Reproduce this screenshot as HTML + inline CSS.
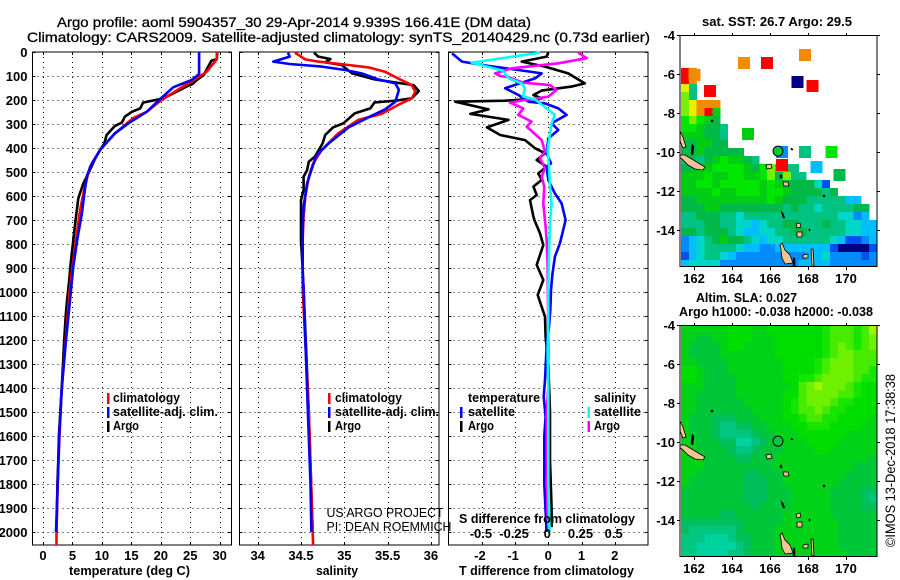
<!DOCTYPE html>
<html><head><meta charset="utf-8"><title>Argo profile</title>
<style>
html,body{margin:0;padding:0;background:#fff;width:900px;height:580px;overflow:hidden}
svg{display:block}
text{font-family:"Liberation Sans",sans-serif;fill:#000}
</style></head>
<body>
<svg id="chart" xmlns="http://www.w3.org/2000/svg" width="900" height="580" viewBox="0 0 900 580"></svg>
<script>
const depthTicks=[0,100,200,300,400,500,600,700,800,900,1000,1100,1200,1300,1400,1500,1600,1700,1800,1900,2000];
const tempTicks=[0,5,10,15,20,25,30];
const salTicks=['34','34.5','35','35.5','36'];
const tDiffTicks=[-2,-1,0,1,2];
const sDiffTicks=['-0.5','-0.25','0','0.25','0.5'];
const lonTicks=[162,164,166,168,170];
const latTicks=[-4,-6,-8,-10,-12,-14];

const argoTempDepth=[0,30,36,68,96,117,133,147,179,196,211,235,249,269,294,308,346,381,408,447,506,550,610,686,783,881,964,1033,1100,1200,1300,1400,1500,1600,1700,1800,1900,2000];
const argoTemp=[29.6,29.5,28.6,27.9,27.3,26.1,25.4,24.1,21.6,19.9,17.0,16.5,15.1,13.9,13.4,12.2,10.8,10.4,9.7,8.8,7.7,6.8,6.0,5.6,5.15,4.7,4.4,4.1,3.85,3.6,3.4,3.17,2.94,2.7,2.6,2.44,2.38,2.3];
const climTempDepth=[0,30,40,82,110,151,204,249,276,339,408,478,561,658,783,894,1005,1200,1400,1600,1800,2000,2054];
const climTemp=[29.5,29.5,29.2,27.8,26.1,23.3,19.9,17.6,15.3,12.2,9.7,8.0,7.1,6.3,5.6,5.0,4.5,3.85,3.2,2.8,2.5,2.3,2.3];
const satTempDepth=[0,92,117,147,196,249,297,339,408,464,512,575,672,783,894,1005,1200,1400,1600,1800,2000];
const satTemp=[26.5,26.5,25.2,22.1,19.9,17.6,14.5,12.2,9.7,8.3,7.5,7.1,6.6,5.8,5.15,4.7,3.9,3.2,2.75,2.5,2.2];

const argoSalDepth=[3,19,29,43,54,89,114,131,138,163,193,203,210,235,256,297,314,346,381,436,457,492,519,575,617,783,908,992,1500,2000];
const argoSal=[34.65,34.70,34.84,34.78,34.97,35.09,35.35,35.66,35.80,35.86,35.78,35.59,35.35,35.30,35.12,34.99,34.87,34.78,34.75,34.66,34.59,34.57,34.53,34.53,34.50,34.50,34.52,34.53,34.59,34.635];
const climSalDepth=[3,31,40,54,64,82,110,138,165,193,221,258,283,339,408,464,519,603,686,783,992,1500,2000,2054];
const climSal=[34.43,34.55,34.70,35.05,35.28,35.47,35.62,35.78,35.82,35.78,35.62,35.43,35.16,34.93,34.74,34.64,34.59,34.55,34.53,34.52,34.52,34.59,34.635,34.64];
const satSalDepth=[3,19,40,50,61,75,89,114,131,158,207,239,272,314,381,429,492,547,644,728,922,985,1500,1800,2000];
const satSal=[34.35,34.37,34.18,34.37,34.74,35.01,35.2,35.39,35.59,35.63,35.59,35.47,35.28,35.05,34.82,34.68,34.62,34.57,34.53,34.52,34.52,34.53,34.58,34.61,34.62];

const argoDTDepth=[3,19,40,61,89,131,144,161,179,193,203,207,239,258,283,314,346,367,401,422,450,478,506,533,561,596,617,686,700,756,804,887,950,1012,1103,1186,1300,1500,1700,1900,1980];
const argoDT=[0,-0.05,-0.8,-0.1,0.6,1.1,0.7,-0.2,-0.45,-0.2,-1.3,-2.8,-1.8,-2.35,-1.2,-1.85,-1.45,-0.7,-0.4,-0.1,-0.35,-0.05,-0.3,-0.2,-0.45,-0.35,-0.55,-0.45,-0.42,-0.25,-0.15,-0.35,-0.15,-0.32,-0.1,-0.08,0,0.05,0.05,0.1,0.1];
const satDTDepth=[6,40,58,75,89,110,151,179,207,214,235,262,297,325,360,422,464,478,533,589,631,700,769,797,853,929,992,1075,1144,1228,1367,1436,1519,1600,1800,2000];
const satDT=[-2.9,-2.6,-1.8,-0.9,-0.2,-0.4,-1.3,-0.9,-0.6,-0.1,0.3,0.55,0.1,0.3,0,-0.05,0.08,-0.05,0,0.2,0.4,0.52,0.4,0.35,0.2,0.12,0.08,0.06,0.02,-0.05,-0.1,-0.14,-0.08,-0.12,-0.12,-0.05];
const satDSDepth=[3,44,78,110,131,151,186,197,235,262,297,339,408,478,561,631,714,840,978,1117,1256,1395,1533,1800,2000];
const satDS=[-0.063,-0.577,-0.34,-0.30,-0.20,-0.176,-0.19,-0.10,-0.013,0.05,0.025,0.013,-0.005,0.005,0.013,0.025,0.013,0.005,0,0,-0.005,0,0,0,0.01];
const argoDSDepth=[3,26,47,68,89,100,105,128,138,158,186,200,211,235,262,290,311,367,415,443,485,519,561,631,728,783,880,1186,1400,1500,1700,1950];
const argoDS=[0.226,0.289,0.075,-0.276,-0.40,-0.364,-0.30,-0.188,0.013,0.063,0,-0.176,-0.289,-0.188,-0.226,-0.126,-0.163,-0.05,-0.025,-0.063,-0.025,-0.05,-0.03,-0.038,-0.02,-0.013,-0.005,0,0,-0.012,-0.012,-0.005];

const n=null;
const sstGrid=[
[n,n,n,n,n,n,n,n,n,n,n,n,n,n,n,n,n,n,n,n,n,n,n,n,n],
[n,n,n,n,n,n,n,n,n,n,n,n,n,n,n,n,n,n,n,n,n,n,n,n,n],
[n,n,n,n,n,n,n,n,n,n,n,n,n,n,n,n,n,n,n,n,n,n,n,n,n],
[n,n,n,n,n,n,n,n,n,n,n,n,n,n,n,n,n,n,n,n,n,n,n,n,n],
[13,12,n,n,n,n,n,n,n,n,n,n,n,n,n,n,n,n,n,n,n,n,n,n,n],
[13,12,n,n,n,n,n,n,n,n,n,n,n,n,n,n,n,n,n,n,n,n,n,n,n],
[11,6,n,n,n,n,n,n,n,n,n,n,n,n,n,n,n,n,n,n,n,n,n,n,n],
[10,6,n,n,n,n,n,n,n,n,n,n,n,n,n,n,n,n,n,n,n,n,n,n,n],
[10,11,12,12,12,n,n,n,n,n,n,n,n,n,n,n,n,n,n,n,n,n,n,n,n],
[10,11,12,13,8,n,n,n,n,n,n,n,n,n,n,n,n,n,n,n,n,n,n,n,n],
[9,10,9,8,7,n,n,n,n,n,n,n,n,n,n,n,n,n,n,n,n,n,n,n,n],
[9,9,8,7,7,6,n,n,n,n,n,n,n,n,n,n,n,n,n,n,n,n,n,n,n],
[8,8,8,7,7,6,n,n,n,n,n,n,n,n,n,n,n,n,n,n,n,n,n,n,n],
[7,7,8,8,7,7,n,n,n,n,n,n,n,n,n,n,n,n,n,n,n,n,n,n,n],
[7,7,8,7,7,7,7,7,n,n,n,n,n,n,n,n,n,n,n,n,n,n,n,n,n],
[6,7,6,7,8,9,8,8,7,6,n,n,n,n,n,n,n,n,n,n,n,n,n,n,n],
[7,7,8,8,9,9,9,9,8,7,9,10,9,6,6,n,n,n,n,n,n,n,n,n,n],
[8,8,8,9,8,8,9,9,8,8,9,10,7,10,6,6,n,n,n,n,n,n,n,n,n],
[8,8,9,9,8,9,9,9,9,9,8,9,8,7,7,7,7,5,2,n,n,n,n,n,n],
[8,8,8,8,9,8,8,9,9,9,8,9,9,8,7,7,7,7,6,7,n,n,n,n,n],
[7,7,8,8,8,8,8,8,8,8,8,9,8,7,7,7,6,6,6,6,6,4,4,n,n],
[7,7,7,8,8,7,7,7,7,7,7,7,7,6,7,6,6,5,6,6,6,6,7,7,n],
[6,6,7,7,7,6,6,5,6,6,6,6,6,6,6,6,6,6,6,6,5,5,3,4,n],
[6,6,6,7,7,6,6,5,5,4,5,6,6,7,7,6,6,6,7,6,6,5,5,4,4],
[7,7,6,7,7,7,6,5,4,4,5,5,6,6,7,7,6,6,6,6,6,5,5,4,4],
[3,4,5,6,7,8,7,7,6,5,4,5,5,6,6,6,6,6,6,5,4,2,2,3,4],
[3,4,5,6,6,6,6,5,4,4,3,3,4,4,4,4,4,4,4,2,0,0,0,0,2],
[2,4,5,6,6,5,4,3,3,3,3,3,3,3,3,3,4,4,5,3,3,3,3,2,3],
[4,5,5,5,5,3,3,3,3,3,3,3,3,3,3,4,4,4,4,3,3,3,3,3,3]
];
const floatLon=[164.63,165.84,167.84,167.45,168.24,164.84,166.63,167.84,169.24,166.63,168.45,169.66,162.84,162.03];
const floatLat=[-5.44,-5.44,-5.03,-6.42,-6.62,-9.09,-10.02,-10.02,-10.02,-10.68,-10.79,-11.2,-6.88,-6.06];
const floatSst=[12,13,12,0,13,8,3,6,9,13,4,7,13,12];

const slaGrid=[
[4,4,4,4,4,4,5,5,5,4,4,5,5,5,5,5,5,5,6,7,7,7,6,7,9],
[4,4,3,3,4,4,5,5,5,4,4,4,5,5,5,5,5,5,6,7,7,7,6,7,8],
[4,3,3,3,3,4,5,5,4,4,4,4,5,5,5,5,5,5,6,7,8,7,6,7,8],
[4,3,3,3,3,4,4,4,4,4,4,4,5,5,5,5,5,5,6,7,8,8,7,7,7],
[4,4,3,3,3,3,4,4,4,4,4,4,4,5,5,5,5,6,7,8,8,8,7,7,7],
[5,5,4,3,3,3,4,4,4,4,4,4,4,5,5,5,5,6,7,8,8,8,7,7,6],
[5,5,4,3,3,3,3,4,4,4,4,4,4,5,5,6,6,7,8,8,8,8,7,6,6],
[4,4,4,3,3,3,3,4,4,4,4,4,4,4,5,7,8,9,8,8,8,7,6,5,5],
[4,4,3,3,3,3,3,4,4,4,4,4,4,5,5,7,8,8,8,8,7,7,6,5,5],
[4,4,3,3,3,3,3,3,4,4,4,4,4,5,6,7,8,8,8,7,6,6,5,5,5],
[4,4,3,3,3,3,3,3,3,4,4,4,4,5,6,7,7,8,7,6,6,5,5,5,5],
[4,3,3,3,2,2,2,3,3,3,4,4,4,5,5,6,7,7,6,6,5,5,5,5,4],
[4,3,3,3,2,1,1,2,2,3,3,4,4,4,5,5,6,6,6,5,5,5,5,4,4],
[4,3,3,3,2,1,1,1,1,2,3,3,4,4,4,5,5,5,5,5,5,4,4,4,4],
[4,4,3,3,3,2,2,0,0,1,2,3,3,4,4,4,5,5,5,5,4,4,4,4,4],
[4,4,3,3,3,3,2,1,1,2,3,3,3,4,4,4,4,5,5,4,4,4,4,4,4],
[4,4,4,3,3,3,3,2,2,3,3,3,4,4,4,4,4,4,4,4,4,4,4,4,3],
[4,4,4,3,3,3,3,3,3,3,3,3,4,4,4,4,4,4,4,4,4,4,3,3,3],
[4,4,3,3,3,3,3,3,2,2,3,3,3,4,4,4,4,4,4,4,4,3,3,3,3],
[4,3,3,3,3,3,3,3,2,2,2,3,3,4,4,4,4,4,4,4,3,3,3,3,3],
[3,3,3,3,3,3,3,3,2,2,2,3,3,3,4,4,4,4,4,3,3,3,3,2,2],
[3,3,3,3,3,3,3,3,2,2,2,3,3,3,4,4,4,4,4,3,3,3,3,2,1],
[3,3,3,3,3,3,3,3,3,2,3,3,3,3,4,4,4,4,4,3,3,3,3,2,2],
[3,3,3,3,3,2,2,3,3,3,3,3,3,4,4,4,4,4,4,3,3,3,3,3,3],
[2,2,2,2,2,2,2,2,3,3,3,3,3,4,4,4,4,4,4,4,3,3,3,3,3],
[2,1,1,1,1,1,1,2,3,3,3,3,4,4,4,4,4,4,4,4,3,3,3,3,3],
[1,1,1,0,0,0,1,2,2,3,3,3,4,4,4,4,4,4,4,4,3,3,3,3,3],
[1,1,0,0,0,0,0,1,2,3,3,3,4,4,4,4,4,4,4,4,3,3,3,3,3],
[1,1,0,0,0,0,1,1,2,3,3,3,4,4,4,4,4,4,4,4,4,3,3,3,3]
];

const sstColors=['#000082','#0000c8','#0050f0','#008cff','#00beff','#00d7c8','#00c382','#00b946','#00cd14','#00e600','#78f000','#e6f000','#f08c00','#ff0000'];
const slaColors=['#00d2a0','#00c680','#00bf5c','#00c63a','#00d218','#00de00','#14e600','#46eb00','#6ef000','#a0f500'];

const NS='http://www.w3.org/2000/svg';
const svg=document.getElementById('chart');
const yD=d=>52+d*0.24;
const xT=t=>43+t*5.89;
const xS=s=>257.7+(s-34)*86.6;
const xDT=v=>548.3+v*33.2;
const xDS=v=>548.3+v*132.8;
const xLon=l=>694+(l-162)*19;
const yLat=(l,top)=>top+(-4-l)*19.45;

function mk(tag,attrs,parent){
  const el=document.createElementNS(NS,tag);
  for(const k in attrs){el.setAttribute(k,attrs[k]);}
  (parent||svg).appendChild(el);
  return el;
}
function txt(s,x,y,opt,name,parent){
  opt=opt||{};
  const el=mk('text',{x:x,y:y,'font-size':opt.size||13,'font-weight':opt.weight||'bold','text-anchor':opt.anchor||'start'},parent);
  
  
  if(opt.len){el.setAttribute('textLength',opt.len);el.setAttribute('lengthAdjust','spacingAndGlyphs');}
  if(opt.stroke){el.setAttribute('stroke','#000');el.setAttribute('stroke-width',opt.stroke);}
  if(opt.fill){el.setAttribute('fill',opt.fill);}
  if(opt.transform){el.setAttribute('transform',opt.transform);}
  el.textContent=s;
  return el;
}
function line(x1,y1,x2,y2,name,dash,parent){
  const el=mk('line',{x1:x1,y1:y1,x2:x2,y2:y2,stroke:'#000','stroke-width':1,'shape-rendering':'crispEdges'},parent);
  if(dash){el.setAttribute('stroke-dasharray','1 4');}
  
  
  return el;
}
function panel(L,R,xTicks,xf,pname,showDepth){
  const T=52,B=545;
  const g=mk('g',{});
  
  
  depthTicks.forEach(d=>{
    const y=Math.round(yD(d))+.5;
    if(d>0){line(L,y,R,y,'depth-grid-line',true,g);}
    line(L,y,L+3,y,'depth-tick-left',false,g);
    line(R-3,y,R,y,'depth-tick-right',false,g);
    if(showDepth){txt(String(d),27.5,y+4.5,{anchor:'end'},'depth-tick-label',g);}
  });
  xTicks.forEach(v=>{
    const x=Math.round(xf(v))+.5;
    line(x,T,x,B,'x-grid-line',true,g);
    line(x,T,x,T+3,'x-tick-top',false,g);
    line(x,B-3,x,B,'x-tick-bottom',false,g);
  });
  const r=mk('rect',{x:L,y:T,width:R-L,height:B-T,fill:'none',stroke:'#000','stroke-width':1.4,'shape-rendering':'crispEdges'},g);
  
  
  return g;
}
function series(depths,vals,xf,color,name,parent){
  const pts=depths.map((d,i)=>xf(vals[i]).toFixed(1)+','+yD(d).toFixed(1)).join(' ');
  const el=mk('polyline',{points:pts,fill:'none',stroke:color,'stroke-width':2.6,'stroke-linejoin':'round'},parent);
  
  
  return el;
}
function swatch(x,y,color,name){
  const el=mk('rect',{x:x,y:y,width:2.4,height:11,fill:color,'shape-rendering':'crispEdges'});
  
  
}

/* titles */
txt('Argo profile: aoml 5904357_30 29-Apr-2014 9.939S 166.41E (DM data)',57,27,{size:14,weight:'normal',stroke:.3,len:474},'figure-title-line-1');
txt('Climatology: CARS2009. Satellite-adjusted climatology: synTS_20140429.nc (0.73d earlier)',27,42,{size:14,weight:'normal',stroke:.3,len:623},'figure-title-line-2');

/* temperature panel */
const p1=panel(32.5,231.5,tempTicks,xT,'temperature-panel',true);
series(argoTempDepth,argoTemp,xT,'#000','argo-temperature-line',p1);
series(climTempDepth,climTemp,xT,'#f00','climatology-temperature-line',p1);
series(satTempDepth,satTemp,xT,'#0000ff','satellite-temperature-line',p1);
tempTicks.forEach(v=>txt(String(v),xT(v),560,{anchor:'middle'},'temperature-tick-label'));
txt('temperature (deg C)',69,575,{len:121},'temperature-axis-title');
swatch(107,393,'#f00','legend-swatch-climatology');
swatch(107,407,'#0000ff','legend-swatch-satellite');
swatch(107,421,'#000','legend-swatch-argo');
txt('climatology',113,402,{len:67},'legend-climatology');
txt('satellite-adj. clim.',113,416,{len:105},'legend-satellite');
txt('Argo',113,430,{len:26},'legend-argo');

/* salinity panel */
const p2=panel(239.5,439,salTicks.map(Number),xS,'salinity-panel',false);
series(argoSalDepth,argoSal,xS,'#000','argo-salinity-line',p2);
series(climSalDepth,climSal,xS,'#f00','climatology-salinity-line',p2);
series(satSalDepth,satSal,xS,'#0000ff','satellite-salinity-line',p2);
salTicks.forEach(v=>txt(v,xS(Number(v)),560,{anchor:'middle'},'salinity-tick-label'));
txt('salinity',316,575,{len:42},'salinity-axis-title');
swatch(328,393,'#f00','legend-swatch-climatology-2');
swatch(328,407,'#0000ff','legend-swatch-satellite-2');
swatch(328,421,'#000','legend-swatch-argo-2');
txt('climatology',335,402,{len:67},'legend-climatology-2');
txt('satellite-adj. clim.',335,416,{len:104},'legend-satellite-2');
txt('Argo',335,430,{len:26},'legend-argo-2');
txt('US ARGO PROJECT',326.5,517,{weight:'normal',size:13,len:117,fill:'#222'},'project-credit');
txt('PI: DEAN ROEMMICH',326.5,531,{weight:'normal',size:13,len:125,fill:'#222'},'pi-credit');

/* difference panel */
const p3=panel(448.5,648,tDiffTicks,xDT,'difference-panel',false);
series(argoDTDepth,argoDT,xDT,'#000','argo-t-difference-line',p3);
series(satDTDepth,satDT,xDT,'#0000ff','satellite-t-difference-line',p3);
series(argoDSDepth,argoDS,xDS,'#ff00ff','argo-s-difference-line',p3);
series(satDSDepth,satDS,xDS,'#00ffff','satellite-s-difference-line',p3);
tDiffTicks.forEach(v=>txt(String(v),xDT(v)-(v<0?2:0),560,{anchor:'middle'},'t-difference-tick-label'));
txt('T difference from climatology',459,575,{len:175},'t-difference-axis-title');
txt('S difference from climatology',459,523,{len:176},'s-difference-axis-title');
sDiffTicks.forEach(v=>txt(v,xDS(Number(v))-1,538,{anchor:'middle'},'s-difference-tick-label'));
txt('temperature',468,402,{len:72},'legend-temperature-heading');
txt('salinity',594,402,{len:42},'legend-salinity-heading');
swatch(460,407,'#0000ff','legend-swatch-t-satellite');
swatch(460,421,'#000','legend-swatch-t-argo');
swatch(587.5,407,'#00ffff','legend-swatch-s-satellite');
swatch(587.5,421,'#ff00ff','legend-swatch-s-argo');
txt('satellite',468,416,{len:47},'legend-t-satellite');
txt('Argo',468,430,{len:26},'legend-t-argo');
txt('satellite',594,416,{len:47},'legend-s-satellite');
txt('Argo',594,430,{len:26},'legend-s-argo');

/* maps */
const islandPolys=[
"680,445 685,445 695,451 705,457 703,460 695,459 688,455 682,449 680,448",
"680,421 683,427 686,437 683,438 680,431",
"780,535 782,533 785,540 790,545 793,553 785,554 782,548 781,540",
"811,539 813,539 814,556 812,556",
"803,545 808,544 808,548 803,548",
"766,455 771,454 772,458 767,459",
"783,472 788,472 789,476 784,476",
"796,514 800,513 801,517 797,518",
"797,522 802,522 802,527 797,527"
];
const darkSpecks=[
"692,434 694,436 693,445 691,444",
"711,410 713,410 713,412 711,412",
"780,465 782,465 782,468 780,468",
"781,501 783,503 785,508 783,508",
"791,438 793,439 793,440 791,440",
"823,485 825,485 825,487 823,487",
"809,519 810,519 810,521 809,521",
"793,548 795,548 795,556 793,556"
];
function drawMap(top,name,gridData,colors,isSst){
  const g=mk('g',{});
  
  
  gridData.forEach((row,r)=>row.forEach((v,c)=>{
    if(v===null){return;}
    const y=top+1+r*8;
    const h=(r===gridData.length-1)?6:8;
    const cell=mk('rect',{x:681+c*7.84,y:y,width:8,height:h,fill:colors[v],'shape-rendering':'crispEdges'},g);
    
    
  }));
  if(isSst){
    floatLon.forEach((lon,i)=>{
      const sq=mk('rect',{x:xLon(lon)-6,y:yLat(floatLat[i],top)-6,width:12,height:12,fill:colors[floatSst[i]],'shape-rendering':'crispEdges'},g);
      
      
    });
  }
  const dy=top-325;
  islandPolys.forEach(p=>{
    const pts=p.split(' ').map(q=>{const a=q.split(',');return a[0]+','+(Number(a[1])+dy);}).join(' ');
    const isl=mk('polygon',{points:pts,fill:'#f5c396',stroke:'#000','stroke-width':.8},g);
    
    
  });
  darkSpecks.forEach(p=>{
    const pts=p.split(' ').map(q=>{const a=q.split(',');return a[0]+','+(Number(a[1])+dy);}).join(' ');
    const sp=mk('polygon',{points:pts,fill:'#000',stroke:'#000','stroke-width':.4},g);
    
    
  });
  const circ=mk('circle',{cx:778,cy:yLat(-10.02,top)-1,r:5,fill:isSst?'#00c832':'none',stroke:'#000','stroke-width':1},g);
  
  
  const fr=mk('rect',{x:680,y:top+.5,width:197,height:231,fill:'none',stroke:'#000','stroke-width':1.2,'shape-rendering':'crispEdges'},g);
  
  
  lonTicks.forEach(l=>{
    const x=Math.round(xLon(l))+.5;
    line(x,top-2,x,top,'map-tick-top',false,g);
    line(x,top+232,x,top+235,'map-tick-bottom',false,g);
    txt(String(l),xLon(l),top+248,{anchor:'middle'},'longitude-tick-label',g);
  });
  latTicks.forEach(l=>{
    const y=Math.round(yLat(l,top))+.5;
    line(677,y,680,y,'map-tick-left',false,g);
    line(877,y,880,y,'map-tick-right',false,g);
    txt(String(l),675,y+4.5,{anchor:'end'},'latitude-tick-label',g);
  });
}
drawMap(35,'sst-map',sstGrid,sstColors,true);
drawMap(325,'sla-map',slaGrid,slaColors,false);
txt('sat. SST: 26.7 Argo: 29.5',702,26,{len:150},'sst-map-title');
txt('Altim. SLA: 0.027',696,302,{len:101},'sla-map-title');
txt('Argo h1000: -0.038 h2000: -0.038',679,316,{len:194},'steric-height-title');
txt('\u00a9IMOS 13-Dec-2018 17:38:38',895,547,{weight:'normal',size:14,len:173,transform:'rotate(-90 895 547)'},'imos-credit');
</script>
</body></html>
